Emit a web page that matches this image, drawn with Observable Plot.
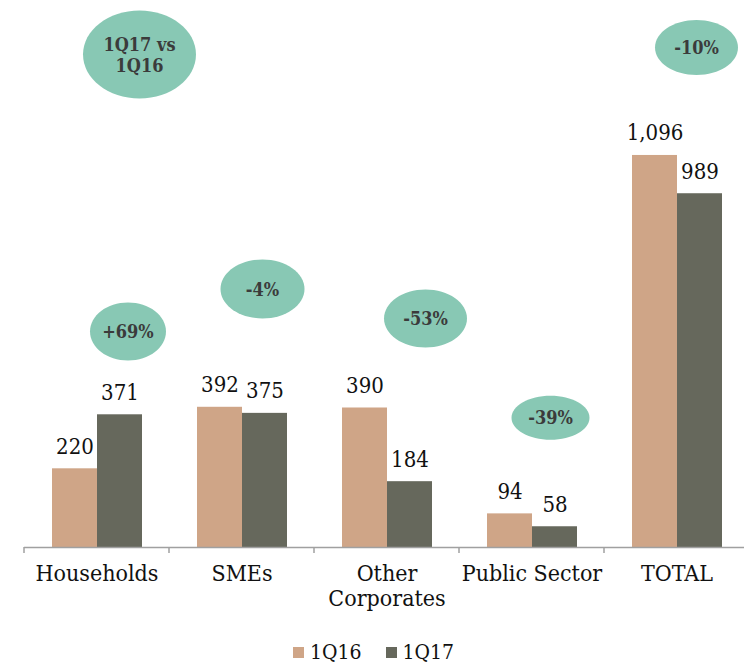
<!DOCTYPE html>
<html>
<head>
<meta charset="utf-8">
<script src="https://cdn.jsdelivr.net/npm/d3@7"></script>
<script src="https://cdn.jsdelivr.net/npm/@observablehq/plot@0.6"></script>
<style>
  html, body { margin: 0; padding: 0; background: #fff; }
  body { width: 744px; height: 664px; overflow: hidden; font-family: "DejaVu Serif Condensed", "DejaVu Serif", serif; }
  #legend { display: flex; justify-content: center; align-items: center; height: 22px; line-height: 22px; padding-top: 11px; font-size: 21px; color: #111; padding-left: 3px; }
  #legend .item { display: flex; align-items: center; margin: 0 12px; }
  #legend .sw { width: 11px; height: 11px; margin-right: 6px; }
</style>
</head>
<body>
<div id="chart"></div>
<div id="legend"></div>
<script>
// ---- data ----
const categories = ["Households", "SMEs", "Other Corporates", "Public Sector", "TOTAL"];
const categoryLabels = ["Households", "SMEs", "Other\nCorporates", "Public Sector", "TOTAL"];
const series = ["1Q16", "1Q17"];
const values1Q16 = [220, 392, 390, 94, 1096];
const values1Q17 = [371, 375, 184, 58, 989];
const seriesColors = ["#cfa587", "#66685c"];

// change annotations (bubbles)
const noteLabels = ["1Q17 vs\n1Q16", "+69%", "-4%", "-53%", "-39%", "-10%"];
const noteCategories = ["Households", "Households", "SMEs", "Other Corporates", "Public Sector", "TOTAL"];
// placement of the bubbles (value-axis level, horizontal offset, radii)
const notePlacement = [
  {y: 1378, dx: 42.5, rx: 56.5, ry: 44},
  {y: 604,  dx: 31,   rx: 38,   ry: 29},
  {y: 723,  dx: 20.5, rx: 42,   ry: 29.5},
  {y: 640,  dx: 38.5, rx: 41.5, ry: 29},
  {y: 363,  dx: 18.5, rx: 39,   ry: 22},
  {y: 1398, dx: 19.5, rx: 41.5, ry: 27.5}
];

// ---- build table ----
const table = [];
categories.forEach((c, i) => {
  table.push({category: c, series: "1Q16", value: values1Q16[i]});
  table.push({category: c, series: "1Q17", value: values1Q17[i]});
});
const notes = noteLabels.map((t, i) => ({label: t, category: noteCategories[i], ...notePlacement[i]}));

function ellipseSymbol(rx, ry) {
  const k = 0.5522847498;
  return {
    draw(ctx) {
      ctx.moveTo(rx, 0);
      ctx.bezierCurveTo(rx, ry * k, rx * k, ry, 0, ry);
      ctx.bezierCurveTo(-rx * k, ry, -rx, ry * k, -rx, 0);
      ctx.bezierCurveTo(-rx, -ry * k, -rx * k, -ry, 0, -ry);
      ctx.bezierCurveTo(rx * k, -ry, rx, -ry * k, rx, 0);
      ctx.closePath();
    }
  };
}

const fmt = d3.format(",");
const font = "DejaVu Serif Condensed, DejaVu Serif, serif";

const chart = Plot.plot({
  width: 744,
  height: 630,
  marginLeft: 23,
  marginRight: 0,
  marginTop: 10,
  marginBottom: 83,
  style: {fontFamily: font, background: "#fff", color: "#111"},
  fx: {domain: categories, range: [23, 750.5], paddingInner: 0, paddingOuter: 0, label: null},
  x: {domain: series, paddingInner: 0, paddingOuter: 0.6, axis: null},
  y: {domain: [0, 1500], range: [547, 10.45], axis: null},
  color: {domain: series, range: seriesColors},
  marks: [
    Plot.barY(table, {fx: "category", x: "series", y: "value", fill: "series"}),
    Plot.ruleY([0], {stroke: "#a0a0a0", strokeWidth: 1.5}),
    Plot.text(table, {fx: "category", x: "series", y: "value", text: d => fmt(d.value),
      dy: -15, lineAnchor: "bottom", fontSize: 22, fill: "#111"}),
    ...notes.map(n => Plot.dot([n], {fx: "category", y: "y", dx: n.dx, symbol: ellipseSymbol(n.rx, n.ry),
      fill: "#88c8b4", stroke: "none", r: 5})),
    ...notes.map(n => Plot.text([n], {fx: "category", y: "y", dx: n.dx, text: "label", fontWeight: "bold",
      fontSize: 18, lineHeight: 1.17, fill: "#3b3b3b"})),
    Plot.axisFx({anchor: "bottom", tickSize: 0, tickPadding: 16, fontSize: 23, lineHeight: 1.09, label: null,
      tickFormat: d => categoryLabels[categories.indexOf(d)], fill: "#111"})
  ]
});
document.getElementById("chart").appendChild(chart);

// category boundary ticks below the baseline, placed with the fx scale
const fxScale = chart.scale("fx");
const yScale = chart.scale("y");
const y0 = yScale.apply(0);
const svg = d3.select(chart.tagName.toLowerCase() === "svg" ? chart : chart.querySelector("svg"));
const bounds = categories.map(c => fxScale.apply(c)).concat([fxScale.apply(categories[categories.length - 1]) + fxScale.bandwidth]);
svg.append("g").selectAll("line").data(bounds).join("line")
  .attr("x1", d => d).attr("x2", d => d)
  .attr("y1", y0).attr("y2", y0 + 6)
  .attr("stroke", "#a0a0a0").attr("stroke-width", 1.5);

// legend
const legend = d3.select("#legend");
series.forEach((s, i) => {
  const item = legend.append("div").attr("class", "item");
  item.append("div").attr("class", "sw").style("background", seriesColors[i]);
  item.append("span").text(s);
});
</script>
</body>
</html>
